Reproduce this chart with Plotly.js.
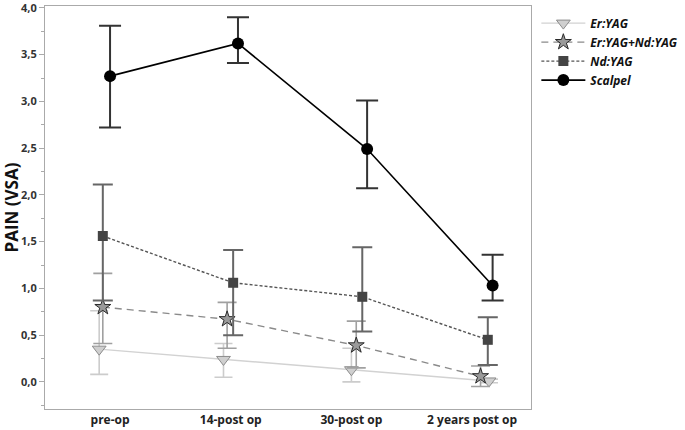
<!DOCTYPE html>
<html>
<head>
<meta charset="utf-8">
<script src="https://cdn.plot.ly/plotly-3.0.1.min.js"></script>
<style>html,body{margin:0;padding:0;background:#fff;}#chart{width:685px;height:430px;}</style>
</head>
<body>
<div id="chart"></div>
<script>
// Category labels (time points)
var categories = ["pre-op", "14-post op", "30-post op", "2 years post op"];
var catIndex = [0, 1, 2, 3];

// Series names
var seriesNames = ["Er:YAG", "Er:YAG+Nd:YAG", "Nd:YAG", "Scalpel"];

// Horizontal position of each series' point within its time point (as drawn, slightly dodged)
var erX     = [-0.09, 0.94, 2.00, 3.14];
var erNdX   = [-0.06, 0.97, 2.04, 3.07];
var ndX     = [-0.06, 1.02, 2.09, 3.13];
var scalX   = [0.00, 1.06, 2.13, 3.17];

// Mean pain (VSA) values
var erMean   = [0.35, 0.24, 0.13, 0.01];
var erNdMean = [0.80, 0.67, 0.39, 0.06];
var ndMean   = [1.56, 1.06, 0.91, 0.45];
var scalMean = [3.27, 3.62, 2.49, 1.03];

// Upper / lower limits of the error bars
var erUpper   = [0.76, 0.41, 0.36, 0.03];
var erLower   = [0.08, 0.05, 0.00, -0.01];
var erNdUpper = [1.16, 0.85, 0.65, 0.17];
var erNdLower = [0.41, 0.36, 0.15, -0.05];
var ndUpper   = [2.11, 1.41, 1.44, 0.69];
var ndLower   = [0.87, 0.50, 0.54, 0.18];
var scalUpper = [3.81, 3.90, 3.01, 1.36];
var scalLower = [2.72, 3.41, 2.07, 0.87];

// Y tick values
var yTicks = [0, 0.5, 1, 1.5, 2, 2.5, 3, 3.5, 4];

function plus(u, m) { return u.map(function (v, i) { return v - m[i]; }); }
function minus(l, m) { return l.map(function (v, i) { return m[i] - v; }); }

var traces = [
  {
    name: seriesNames[0], x: erX, y: erMean, type: "scatter", mode: "lines+markers",
    line: {color: "#d2d2d2", width: 1.4},
    marker: {symbol: "triangle-down", size: 12, color: "#cfcfcf", line: {color: "#8c8c8c", width: 1}},
    error_y: {type: "data", symmetric: false, array: plus(erUpper, erMean), arrayminus: minus(erLower, erMean),
              color: "#cccccc", thickness: 1.6, width: 9}
  },
  {
    name: seriesNames[1], x: erNdX, y: erNdMean, type: "scatter", mode: "lines+markers",
    line: {color: "#8a8a8a", width: 1.4, dash: "7px,5px"},
    marker: {symbol: "star", size: 12, color: "#9a9a9a", line: {color: "#2a2a2a", width: 1}},
    error_y: {type: "data", symmetric: false, array: plus(erNdUpper, erNdMean), arrayminus: minus(erNdLower, erNdMean),
              color: "#a0a0a0", thickness: 1.6, width: 9.5}
  },
  {
    name: seriesNames[2], x: ndX, y: ndMean, type: "scatter", mode: "lines+markers",
    line: {color: "#555555", width: 1.4, dash: "3px,2px"},
    marker: {symbol: "square", size: 10, color: "#444444"},
    error_y: {type: "data", symmetric: false, array: plus(ndUpper, ndMean), arrayminus: minus(ndLower, ndMean),
              color: "#666666", thickness: 2, width: 10}
  },
  {
    name: seriesNames[3], x: scalX, y: scalMean, type: "scatter", mode: "lines+markers",
    line: {color: "#000000", width: 1.6},
    marker: {symbol: "circle", size: 12, color: "#000000"},
    error_y: {type: "data", symmetric: false, array: plus(scalUpper, scalMean), arrayminus: minus(scalLower, scalMean),
              color: "#333333", thickness: 2, width: 11}
  }
];

var layout = {
  width: 685, height: 430,
  margin: {l: 45, r: 154, t: 6, b: 21},
  paper_bgcolor: "#ffffff", plot_bgcolor: "#ffffff",
  separators: ", ",
  font: {family: "Open Sans, sans-serif", color: "#222"},
  showlegend: true,
  legend: {
    xref: "container", yref: "container", x: 0.783, y: 0.98, xanchor: "left", yanchor: "top",
    font: {family: "Open Sans, sans-serif", size: 12, color: "#111", weight: "bold", style: "italic"},
    bgcolor: "rgba(0,0,0,0)", tracegroupgap: 0, itemwidth: 44
  },
  xaxis: {
    automargin: false,
    range: [-0.539, 3.488], tickmode: "array", tickvals: catIndex, ticktext: categories,
    showgrid: false, zeroline: false, showline: true, linecolor: "#aaaaaa", linewidth: 1, mirror: true,
    ticks: "", ticklabelstandoff: 0, ticklabeloverflow: "allow",
    tickfont: {family: "Open Sans, sans-serif", size: 12, color: "#222", weight: "bold"}
  },
  yaxis: {
    automargin: false,
    range: [-0.29, 4.02], tickmode: "array", tickvals: yTicks, tickformat: ".1f",
    ticklabeloverflow: "allow",
    showgrid: false, zeroline: false, showline: true, linecolor: "#aaaaaa", linewidth: 1, mirror: true,
    ticks: "outside", ticklen: 5, tickcolor: "#aaaaaa",
    minor: {dtick: 0.25, tick0: 0, ticks: "outside", ticklen: 3, tickcolor: "#aaaaaa"},
    tickfont: {family: "Open Sans, sans-serif", size: 11, color: "#333", weight: "bold"},
    title: {text: "PAIN (VSA)", standoff: 4, font: {family: "Open Sans, sans-serif", size: 17, color: "#111", weight: "bold"}}
  }
};

Plotly.newPlot("chart", traces, layout, {displayModeBar: false, staticPlot: true});
</script>
</body>
</html>
